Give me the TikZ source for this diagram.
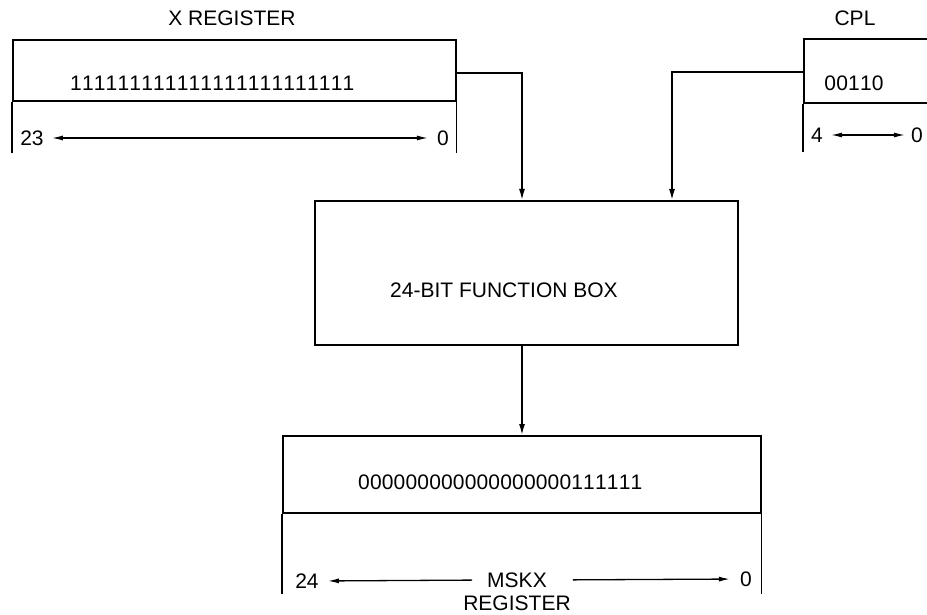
\documentclass[tikz,border=0pt]{standalone}
\usepackage{fontspec}
\setmainfont{Liberation Sans}
\newfontfamily\digitfont[LetterSpace=0.8,Kerning=Off]{Liberation Sans}
\usetikzlibrary{arrows.meta,calc}
\begin{document}
\begin{tikzpicture}[x=1pt,y=-1pt,
  line/.style={line width=1.6pt},
  arr/.style={line width=1.6pt,-{Latex[length=11pt,width=6pt]}},
  harr/.style={line width=1.3pt,-{Latex[length=11pt,width=5pt]}},
  darr/.style={line width=1.3pt,{Latex[length=11pt,width=5pt]}-{Latex[length=11pt,width=5pt]}},
  lbl/.style={font=\fontsize{21}{25}\selectfont, inner sep=0pt},
  dig/.style={font=\digitfont\fontsize{21}{25}\selectfont, inner sep=0pt},
  box/.style={draw,line width=1.6pt,inner sep=0pt}]
\useasboundingbox (0,0) rectangle (927,615);
\clip (0,0) rectangle (927,615);

% X register
\node[lbl] (xt) at (232,18) {X REGISTER};
\node[box, minimum width=443pt, minimum height=61pt, anchor=north west] (xr) at (12,39) {};
\draw[line] (xr.south west) -- ++(0,51);
\draw[line] (xr.south east) -- ++(0,51);
\node[dig, anchor=west] (xv) at (70,83) {1111%
1111%
1111%
1111%
1111%
1111};
\node[lbl] (x23) at (32,138) {23};
\node[lbl] (x0) at (443,138) {0};
\draw[darr, shorten <=8pt, shorten >=9pt] (x23.east) -- (x0.west);
\coordinate (xo) at (455,73);

% CPL register
\node[lbl] (ct) at (855,18) {CPL};
\node[box, minimum width=200pt, minimum height=64pt, anchor=north west] (cr) at (803,38) {};
\draw[line] (cr.south west) -- ++(0,48);
\node[dig] (cv) at (854,83) {00110};
\node[lbl] (c4) at (817,135) {4};
\node[lbl] (c0) at (917,135) {0};
\draw[darr, shorten <=8pt, shorten >=6pt] (c4.east) -- (c0.west);
\coordinate (co) at (803,72);

% function box
\node[box, minimum width=423pt, minimum height=144pt, anchor=north west] (fb) at (314,200) {};
\node[lbl, anchor=west] (ft) at (390,290) {24-BIT FUNCTION BOX};

\draw[arr] (xo) -| ($(fb.north west)+(208,0)$);
\draw[arr] (co) -| ($(fb.north west)+(358,0)$);

% MSKX register
\node[box, minimum width=478pt, minimum height=77pt, anchor=north west] (mr) at (282,435) {};
\draw[line] (mr.south west) -- ++(0,80);
\draw[line] (mr.south east) -- ++(0,80);
\node[dig, anchor=west] (mv) at (358,482) {0000%
0000%
0000%
0000%
0011%
1111};
\node[lbl] (m24) at (307,581) {24};
\node[lbl] (m0) at (746,579) {0};
\node[lbl] (mk) at (517,580) {MSKX};
\node[lbl] (mreg) at (517,603) {REGISTER};
\draw[harr, shorten <=15pt, shorten >=9pt] (mk.west) -- (m24.east);
\draw[harr, shorten <=26pt, shorten >=10pt] (mk.east) -- (m0.west);

\draw[arr] ($(fb.south west)+(208,0)$) -- ($(mr.north west)+(240,0)$);
\end{tikzpicture}
\end{document}
